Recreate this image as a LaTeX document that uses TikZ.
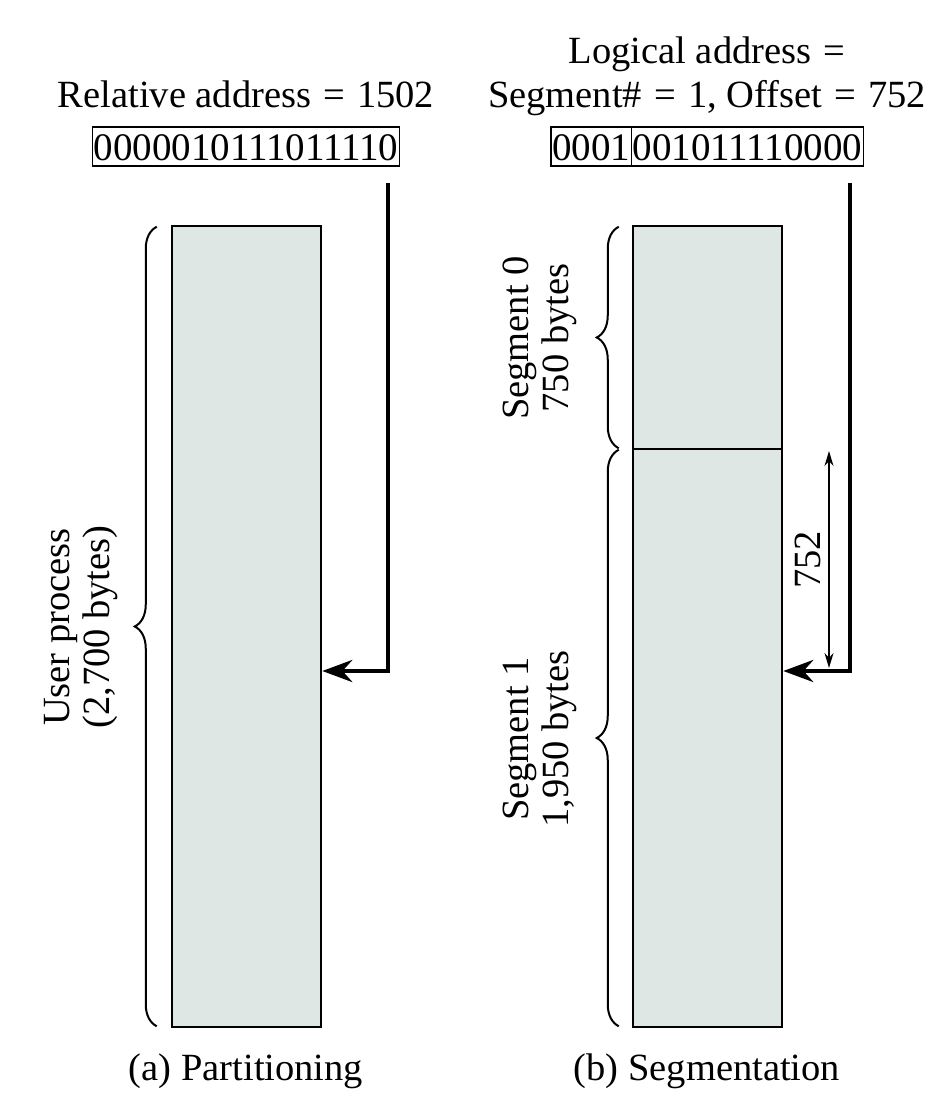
\documentclass[tikz,border=0pt]{standalone}
\usepackage{fontspec}
\setmainfont{Liberation Serif}
\usetikzlibrary{arrows.meta,decorations.pathreplacing,positioning}
\definecolor{memfill}{HTML}{DFE7E4}
\newcommand{\eqs}{\hspace{2.5bp}=\hspace{2.5bp}}

\begin{document}
\begin{tikzpicture}[
    every node/.style={font=\fontsize{38.5bp}{40bp}\selectfont},
    block/.style={draw, fill=memfill, line width=2.5bp, minimum width=149bp, inner sep=0pt},
    bits/.style={draw, line width=1.8bp, inner xsep=1.2bp, inner ysep=0pt, outer sep=0pt,
                 text height=33bp, text depth=6bp, font=\fontsize{39bp}{40bp}\selectfont},
    brace/.style={decorate, decoration={brace, amplitude=22bp}, line width=2bp},
    addr/.style={line width=4.5bp, -{Stealth[length=30bp, width=22bp]}},
    dim/.style={line width=1.5bp, {Stealth[length=15bp, width=9bp]}-{Stealth[length=15bp, width=9bp]}}
  ]
  \useasboundingbox (0bp,0bp) rectangle (938bp,-1116bp);

  % (a) partitioning
  \node (reladdr) at (246bp,-107bp) [anchor=base] {Relative address \eqs{} 1502};
  \node (relbits) at (246bp,-160bp) [bits, anchor=base] {0000010111011110};
  \node (proc) at (246.5bp,-626.5bp) [block, minimum height=801bp] {};
  \coordinate (inA) at (388bp,-183bp);
  \draw [addr] (inA) |- ([yshift=-44.5bp]proc.east);
  \draw [brace] ([xshift=-14bp,yshift=2bp]proc.south west) -- ([xshift=-14bp,yshift=-2bp]proc.north west);
  \node (proclbl) at (81bp,-627bp) [rotate=90, align=center] {User process\\(2,700 bytes)};
  \node (capa) at (246bp,-1080bp) [anchor=base] {(a) Partitioning};

  % (b) segmentation
  \node (logaddr) at (707bp,-63bp) [anchor=base] {Logical address \eqs};
  \node (segoff) at (707bp,-107bp) [anchor=base] {Segment\# \eqs{} 1, Offset \eqs{} 752};
  \node (segbits) at (551bp,-160bp) [bits, anchor=base west] {0001};
  \node (offbits) [bits, right=0bp of segbits] {001011110000};
  \node (seg0) at (707.5bp,-337.5bp) [block, minimum height=223bp] {};
  \node (seg1) at (707.5bp,-738bp) [block, minimum height=578bp] {};
  \coordinate (inB) at (850bp,-183bp);
  \draw [addr] (inB) |- ([yshift=67bp]seg1.east);
  \coordinate (offtop) at (829bp,-451bp);
  \coordinate (offbot) at (829bp,-668bp);
  \draw [dim] (offtop) -- (offbot);
  \node (offlbl) at (808bp,-560bp) [rotate=90] {752};
  \draw [brace] ([xshift=-13bp,yshift=2bp]seg0.south west) -- ([xshift=-13bp,yshift=-2bp]seg0.north west);
  \draw [brace] ([xshift=-13bp,yshift=2bp]seg1.south west) -- ([xshift=-13bp,yshift=-2bp]seg1.north west);
  \node (seg0lbl) at (540bp,-338bp) [rotate=90, align=center] {Segment 0\\750 bytes};
  \node (seg1lbl) at (540bp,-739bp) [rotate=90, align=center] {Segment 1\\1,950 bytes};
  \node (capb) at (707bp,-1080bp) [anchor=base] {(b) Segmentation};
\end{tikzpicture}
\end{document}
